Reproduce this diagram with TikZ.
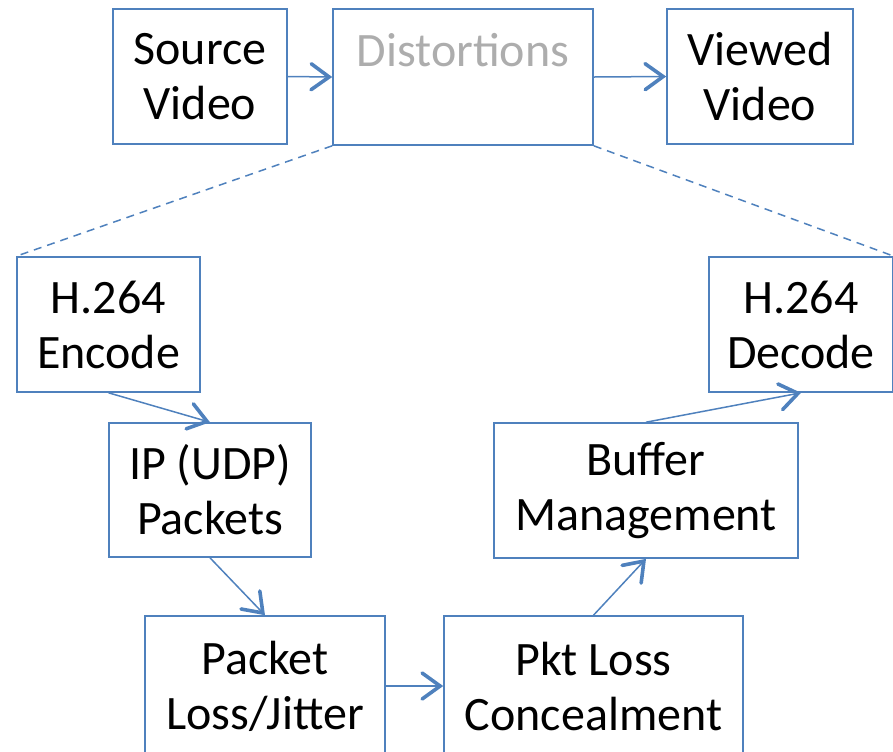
\documentclass[tikz,border=0pt]{standalone}
\usepackage{fontspec}
\setmainfont{Carlito}
\usetikzlibrary{arrows.meta}
\definecolor{boxblue}{RGB}{79,129,189}
\begin{document}
\begin{tikzpicture}[x=0.5pt,y=-0.5pt,
  box/.style={draw=boxblue,line width=0.8pt,inner sep=0pt,align=center,
    font=\fontsize{24}{27.5}\selectfont,minimum height=67.5pt},
  flow/.style={draw=boxblue,line width=0.75pt,
    -{Straight Barb[length=9pt,width=13pt,line width=1.8pt,line cap=round]}},
  zoomline/.style={draw=boxblue,line width=0.75pt,dashed,dash pattern=on 4pt off 3pt}]
  \useasboundingbox (0,0) rectangle (893,751);
  % top row
  \node[box,minimum width=87pt] (src) at (200,76.5) {Source\\Video};
  \node[box,minimum width=130pt,minimum height=68pt,text=black!32] (dist) at (463,77) {Distortions\\\mbox{}};
  \node[box,minimum width=93pt] (view) at (760,76.5) {Viewed\\Video};
  \draw[flow] (src.east) -- (dist.west);
  \draw[flow] (dist.east) -- (view.west);
  % expanded chain
  \node[box,minimum width=91.5pt] (enc) at (108.5,324.5) {H.264\\Encode};
  \node[box,minimum width=92pt] (dec) at (801,324.5) {H.264\\Decode};
  \node[box,minimum width=101pt,minimum height=67pt] (ip) at (210,490) {IP (UDP)\\Packets};
  \node[box,minimum width=152pt] (buf) at (646,490.5) {Buffer\\Management};
  \node[box,minimum width=120pt,minimum height=70pt] (pl) at (265,686) {Packet\\Loss/Jitter};
  \node[box,minimum width=149.5pt,minimum height=70pt] (plc) at (593.5,686) {Pkt Loss\\Concealment};
  \draw[zoomline] (dist.south west) -- (enc.north west);
  \draw[zoomline] (dist.south east) -- (dec.north east);
  \draw[flow] (enc.south) -- (ip.north);
  \draw[flow] (ip.south) -- (pl.north);
  \draw[flow] (pl.east) -- (plc.west);
  \draw[flow] (plc.north) -- (buf.south);
  \draw[flow] (buf.north) -- (dec.south);
\end{tikzpicture}
\end{document}
